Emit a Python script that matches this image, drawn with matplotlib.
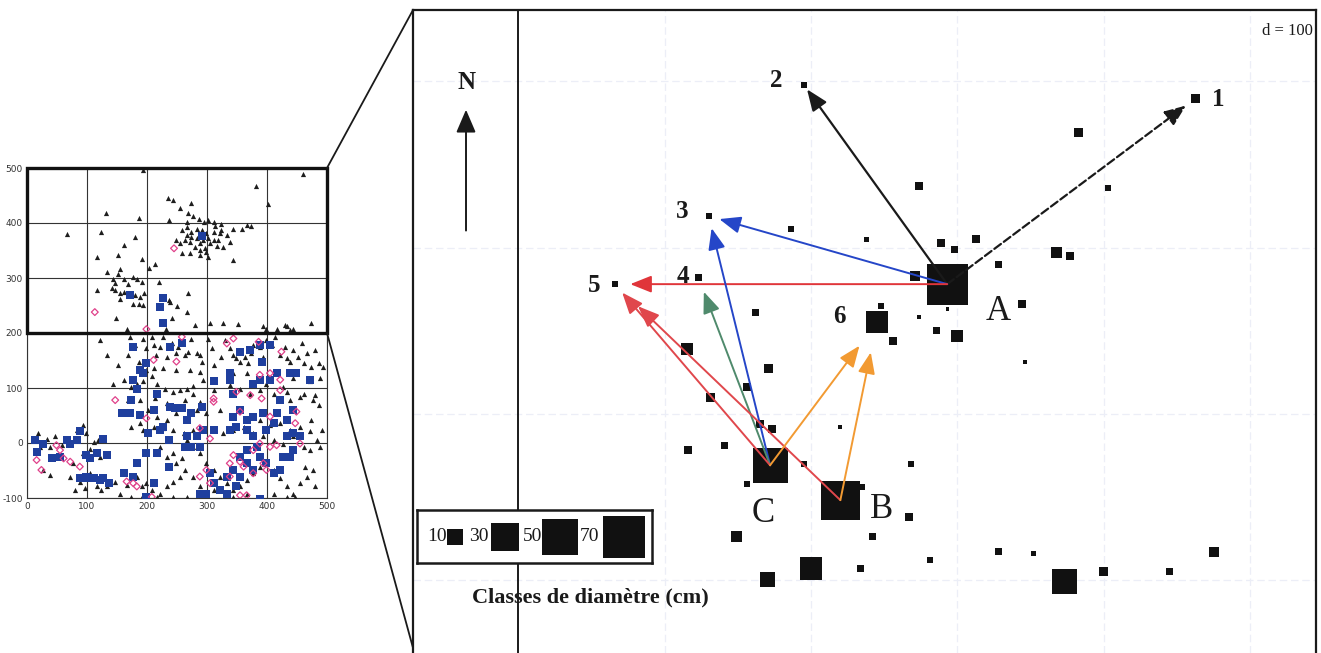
import matplotlib.pyplot as plt
from matplotlib.patches import Rectangle, ConnectionPatch

plt.rcParams['axes.unicode_minus'] = False

# ---------------- overview map (left panel) ----------------
# black triangles
tri_x = [193, 460, 381, 401, 235, 244, 255, 273, 131, 186, 236, 67, 123, 180, 161, 116, 152, 191,
         214, 204, 133, 155, 152, 144, 147, 161, 177, 183, 168, 191, 117, 142, 147, 155, 161, 180,
         188, 195, 186, 177, 193, 155, 220, 268, 236, 238, 250, 266, 241, 149, 167, 232, 280, 305,
         326, 351, 474, 394, 416, 430, 438, 399, 433, 444,
         269, 277, 287, 295, 302, 311, 324, 266, 258, 267, 274, 283, 291, 299, 311, 322, 333, 344,
         338, 327, 316, 305, 297, 288, 280, 272, 263, 255, 249, 258, 272, 288, 302, 288, 294, 302,
         311, 319, 324, 313, 344, 366, 374, 358, 299, 283, 274, 266,
         122, 134, 152, 172, 169, 180, 186, 194, 199, 208, 211, 215, 221, 227, 233, 241, 248, 252,
         263, 269, 274, 283, 288, 291, 302, 308, 330, 338, 344, 349, 355, 363, 369, 374, 377, 388,
         394, 399, 408, 413, 422, 430, 433, 438, 444, 452, 458, 461, 466, 474, 480, 486, 494, 324,
         311, 344, 366, 399, 427, 444, 472, 488, 461, 480, 438,
         144, 161, 174, 183, 194, 208, 216, 230, 244, 255, 266, 277, 288, 294, 272, 249, 227, 211,
         199, 169, 188, 213, 233, 263, 277, 288, 311, 338, 355, 372, 388, 411, 433, 455, 477, 486,
         474, 491, 472, 483, 455, 438, 422, 405, 388, 366, 344, 322, 299, 283, 266, 249, 233, 216,
         202, 188, 174, 194, 211, 227, 244, 261, 277, 288, 311, 327, 344, 361, 377, 394, 411, 427,
         444, 461, 472, 488, 463, 477,
         19, 33, 47, 22, 38, 58, 83, 94, 99, 111, 119, 105, 122, 94, 77, 72, 105, 116, 124, 97, 88,
         80, 27, 38, 147, 133, 155, 166,
         183, 191, 199, 208, 222, 233, 244, 255, 263, 249, 233, 222, 244, 258, 266, 283, 288, 299,
         311, 322, 333, 344, 355, 366, 377, 388, 399, 411, 422, 433, 444, 455, 466, 480, 433, 411,
         388, 366, 344, 311, 288, 277, 266, 244, 216, 194, 174, 447]
tri_y = [496, 489, 468, 435, 445, 442, 428, 437, 419, 410, 405, 380, 383, 374, 360, 339, 342, 334,
         325, 318, 311, 316, 308, 299, 291, 298, 302, 299, 289, 293, 279, 282, 279, 272, 275, 269,
         266, 272, 252, 253, 251, 261, 293, 272, 260, 257, 250, 239, 228, 228, 208, 208, 215, 218,
         219, 217, 219, 212, 208, 215, 205, 208, 213, 208,
         419, 413, 408, 402, 405, 401, 398, 402, 387, 393, 384, 390, 387, 381, 384, 381, 378, 390,
         366, 357, 358, 363, 354, 351, 357, 366, 370, 363, 370, 345, 345, 342, 339, 363, 369, 372,
         369, 369, 387, 395, 332, 396, 395, 390, 348, 372, 375, 378,
         188, 160, 142, 193, 160, 178, 148, 190, 172, 193, 178, 160, 175, 193, 157, 181, 163, 175,
         160, 166, 190, 163, 160, 148, 190, 172, 187, 172, 160, 154, 148, 157, 145, 163, 178, 175,
         157, 187, 178, 193, 160, 175, 154, 148, 169, 157, 181, 145, 163, 139, 169, 145, 139, 157,
         142, 127, 127, 108, 102, 118, 112, 118, 90, 87, 78,
         108, 115, 102, 108, 112, 121, 108, 99, 93, 96, 99, 104, 130, 115, 133, 133, 136, 136,
         133, 78, 78, 81, 72, 78, 90, 75, 96, 105, 99, 90, 96, 90, 93, 84, 78, 69,
         42, 24, 21, 5, 30, 24, 36, 33, 42, 45, 48, 60, 54, 60, 48, 54, 42, 48,
         60, 36, 30, 24, 30, 27, 24, 18, 24, 30, 24, 18, 24, 30, 18, 12, 5, -1,
         12, -7, -13, -7, -43, -49,
         18, 8, 12, -7, -7, -4, 24, 33, 18, 2, 5, -10, -25, -19, -37, -61, -55, -79, -85, -82, -70,
         -85, -49, -58, -70, -79, -92, -76,
         -61, -79, -73, -85, -92, -79, -70, -61, -49, -37, -25, -7, -19, -28, 5, -7, -19, -37,
         -49, -61, -73, -85, -79, -67, -55, -43, -34, -49, -64, -79, -92, -73, -61, -79, -98, -92,
         -98, -92, -98, -85, -79, -61, -98, -98, -98, -95, -98, -98]

# blue squares
sq_x = [292, 172, 227, 221, 226,
        177, 194, 199, 183, 188, 174, 158, 172, 188, 177, 216, 211, 238, 258, 202, 199, 183, 222,
        236, 227, 238, 247, 258, 266, 274, 291, 311, 294, 311, 283, 266, 263, 274, 288, 216, 236,
        211, 199, 162, 177, 127, 116, 133, 105, 88, 99, 111, 122, 136, 16, 13, 27, 41, 55, 66, 72,
        83, 88, 99, 102, 127,
        338, 338, 344, 377, 388, 405, 416, 422, 438, 449, 472, 433, 444, 416, 394, 377, 366, 355,
        344, 338, 349, 366, 377, 399, 411, 383, 366, 355, 366, 377, 388, 399, 411, 422, 427, 438,
        444, 433, 444, 455, 305, 311, 299, 322, 333, 344, 355, 349, 333, 288, 388,
        355, 372, 388, 405, 391]
sq_y = [376, 269, 263, 248, 219,
        175, 127, 145, 99, 133, 78, 54, 54, 51, 115, 90, 60, 175, 181, 18, -19, -37, 24,
        5, 30, 66, 63, 63, 42, 54, 66, 112, 24, 24, 12, 12, -7, -7, -7, -19, -43,
        -73, -98, -55, -61, 8, -19, -22, -28, -64, -61, -64, -67, -73, -16, 5, -1, -28, -25, 5, -1,
        5, 21, -22, -64, -64,
        127, 115, 90, 108, 115, 115, 127, 78, 127, 127, 115, 42, 60, 54, 54, 48, 42, 60,
        48, 24, 30, 24, 12, 24, 36, -7, -13, -25, -37, -49, -25, -37, -55, -49, -25, -25,
        -13, 12, 18, 12, -55, -73, -92, -85, -61, -49, -61, -79, -92, -92, -101,
        166, 169, 178, 178, 148]

# pink open diamonds
dia_x = [245, 113, 199,
         211, 249, 258, 147, 199, 288, 305, 311, 311, 344, 338, 355, 349, 355, 372, 391, 388, 405,
         422, 422, 424, 449, 447, 455, 405, 388, 377, 416, 394, 399, 377, 361, 338, 305, 299, 288,
         355, 366, 177, 183, 166, 208, 88, 72, 61, 55, 16, 24, 405, 49, 333, 344, 386]
dia_y = [354, 238, 207,
         151, 148, 193, 78, 45, 27, 8, 81, 75, -22, -37, -34, 93, 57, 87, 81, 124, 127,
         115, 96, 166, 57, 36, -1, -7, -1, -13, -4, -37, -49, -55, -43, -61, -73, -49, -61,
         -95, -95, -73, -79, -70, -98, -43, -34, -28, -13, -31, -49, 48, -4, 181, 190, 184]

map_ticks_x = [0, 100, 200, 300, 400, 500]
map_ticks_y = [-100, 0, 100, 200, 300, 400, 500]
zoom_box = (0, 200, 500, 500)   # x0, y0, x1, y1 of the enlarged area

# ---------------- enlarged stand (right panel) ----------------
# labelled trees: positions (m) and diameters (cm)
named = ['1', '2', '3', '4', '5', '6', 'A', 'B', 'C']
named_x = [463, 195, 130, 123, 66, 245, 293, 220, 172]
named_y = [490, 498, 419, 382, 378, 355, 378, 248, 269]
named_d = [3.1, 1.4, 1.4, 1.9, 1.4, 18.6, 64.6, 58.5, 47]

# other trees
other_x = [383, 274, 403, 238, 289, 298, 313, 368, 377, 328, 271, 293, 344, 274, 286, 300, 346,
           248, 256, 186, 162, 115, 171, 131, 156, 165, 173, 116, 141, 195, 156, 220, 235, 268,
           267, 149, 242, 200, 170, 234, 281, 328, 352, 373, 400, 445, 475]
other_y = [469, 437, 436, 405, 403, 399, 405, 397, 395, 390, 383, 363, 366, 358, 350, 347, 331,
           365, 344, 411, 361, 339, 327, 310, 316, 294, 291, 278, 281, 270, 258, 292, 256, 270,
           238, 226, 226, 207, 200, 207, 212, 217, 216, 199, 205, 205, 217]
other_d = [3.1, 2.5, 1.4, 1.0, 2.5, 1.9, 2.5, 4.7, 2.5, 1.9, 3.8, 0.4, 2.5, 0.6, 1.9, 5.5, 0.6,
           1.4, 2.5, 1.4, 1.9, 5.5, 3.1, 3.1, 2.5, 2.5, 2.5, 2.5, 1.9, 1.4, 1.4, 0.6, 1.4, 1.4,
           2.5, 4.7, 1.9, 20, 8.7, 1.9, 1.4, 1.9, 1.0, 24, 3.1, 1.9, 3.8]

legend_classes = [10, 30, 50, 70]

# dispersal arrows: source -> target
arr_src = ['A', 'A', 'A', 'A', 'C', 'C', 'C', 'B', 'C', 'B']
arr_dst = ['1', '2', '3', '5', '3', '4', '5', '5', '6', '6']
arr_col = ['#1a1a1a', '#1a1a1a', '#2546c8', '#e0353a', '#2546c8', '#4f8a6c',
           '#e0474c', '#e0474c', '#f29a32', '#f29a32']
arr_ls = ['--', '-', '-', '-', '-', '-', '-', '-', '-', '-']
arr_gap = [9, 4, 8, 11, 9, 11, 8, 23, 21, 22]   # points left before the target

label_off = {'1': (16, -1), '2': (-20, 3), '3': (-19, 3), '4': (-11, 1), '5': (-15, -1),
             '6': (-27, 4), 'A': (37, -20), 'B': (30, -7), 'C': (-5, -35)}


def msize(d):
    # square marker area (pt^2) proportional to diameter
    return [13.5 * v for v in d]


fig = plt.figure(figsize=(13.21, 6.53), dpi=100)
serif = 'Liberation Serif'

# ---- left map ----
axl = fig.add_axes([27 / 1321, 155 / 653, 300 / 1321, 330 / 653])
axl.set_xlim(0, 500)
axl.set_ylim(-100, 500)
axl.set_xticks(map_ticks_x)
axl.set_yticks(map_ticks_y)
axl.grid(True, color='#333333', lw=0.8)
axl.set_axisbelow(True)
axl.tick_params(length=0, labelsize=6.5, labelcolor='#333333', pad=3)
for s in axl.spines.values():
    s.set_linewidth(0.8)
    s.set_color('#333333')
axl.scatter(tri_x, tri_y, marker='^', s=14, color='#1e1e1e', linewidths=0, zorder=3)
axl.scatter(sq_x, sq_y, marker='s', s=26, color='#1f3f9e', linewidths=0, zorder=3)
axl.scatter(dia_x, dia_y, marker='D', s=12, facecolors='none', edgecolors='#e0408a',
            linewidths=0.9, zorder=4)
x0, y0, x1, y1 = zoom_box
axl.add_patch(Rectangle((x0, y0), x1 - x0, y1 - y0, fill=False, lw=2.4, ec='#111111',
                        zorder=5, clip_on=False))

# ---- right enlarged stand ----
axr = fig.add_axes([413 / 1321, 0, 903 / 1321, 643 / 653])
axr.set_xlim(-72, 545)
axr.set_ylim(156, 543)
axr.set_xticks([])
axr.set_yticks([])
axr.spines['bottom'].set_visible(False)
for k in ['top', 'left', 'right']:
    axr.spines[k].set_linewidth(1.6)
    axr.spines[k].set_color('#1a1a1a')
for gx in [100, 200, 300, 400, 500]:
    axr.axvline(gx, color='#eceef7', lw=0.9, ls=(0, (6, 3)), zorder=0)
for gy in [200, 300, 400, 500]:
    axr.axhline(gy, color='#eceef7', lw=0.9, ls=(0, (6, 3)), zorder=0)
axr.axvline(0, color='#1a1a1a', lw=1.4, zorder=1)

axr.scatter(other_x, other_y, marker='s', s=msize(other_d), color='#111111', linewidths=0, zorder=2)
axr.scatter(named_x, named_y, marker='s', s=msize(named_d), color='#111111', linewidths=0, zorder=2)

pos = {n: (x, y) for n, x, y in zip(named, named_x, named_y)}
for s_, t_, c, ls, g in zip(arr_src, arr_dst, arr_col, arr_ls, arr_gap):
    lw = 1.6 if c == '#1a1a1a' else 1.4
    axr.annotate('', xy=pos[t_], xytext=pos[s_], zorder=4,
                 arrowprops=dict(arrowstyle='-|>,head_length=0.65,head_width=0.26',
                                 mutation_scale=20, color=c, lw=lw, ls=ls,
                                 shrinkA=0, shrinkB=g))

for n in named:
    dx, dy = label_off[n]
    if n in 'ABC':
        kw = dict(fontsize=25, fontweight='normal')
    else:
        kw = dict(fontsize=18, fontweight='bold')
    axr.annotate(n, xy=pos[n], xytext=(dx, dy), textcoords='offset points',
                 ha='center', va='center', family=serif, color='#1a1a1a', **kw)

# north arrow
axr.annotate('', xy=(0.0587, 0.845), xytext=(0.0587, 0.657), xycoords='axes fraction',
             arrowprops=dict(arrowstyle='-|>,head_length=0.7,head_width=0.3',
                             mutation_scale=20, color='#1a1a1a', lw=1.4, shrinkA=0, shrinkB=0))
axr.text(0.0598, 0.888, 'N', transform=axr.transAxes, ha='center', va='center',
         family=serif, fontsize=18, fontweight='bold', color='#1a1a1a')
axr.text(0.996, 0.968, 'd = 100', transform=axr.transAxes, ha='right', va='center',
         family=serif, fontsize=12, color='#1a1a1a')

# diameter legend
axg = fig.add_axes([417 / 1321, 90 / 653, 235 / 1321, 53 / 653])
axg.set_xlim(0, 1)
axg.set_ylim(0, 1)
axg.set_xticks([])
axg.set_yticks([])
for s in axg.spines.values():
    s.set_linewidth(1.8)
    s.set_color('#1a1a1a')
txt_x = [0.085, 0.265, 0.49, 0.735]
sq_cx = [0.162, 0.375, 0.61, 0.88]
for v, tx, sx in zip(legend_classes, txt_x, sq_cx):
    axg.text(tx, 0.5, str(v), ha='center', va='center', family=serif, fontsize=14,
             color='#1a1a1a')
    axg.scatter([sx], [0.5], marker='s', s=msize([v]), color='#111111', linewidths=0,
                clip_on=False)
fig.text(590 / 1321, 1 - 597 / 653, 'Classes de diamètre (cm)', ha='center', va='center',
         family=serif, fontsize=16, fontweight='bold', color='#1a1a1a')

# lines linking the zoom box to the enlarged panel
for (xa, ya), yb in [((x1, y1), 1.0), ((x1, y0), 0.008)]:
    con = ConnectionPatch(xyA=(xa, ya), coordsA=axl.transData,
                          xyB=(0, yb), coordsB=axr.transAxes,
                          color='#1a1a1a', lw=1.3)
    fig.add_artist(con)

fig.savefig('out.png', dpi=100)
